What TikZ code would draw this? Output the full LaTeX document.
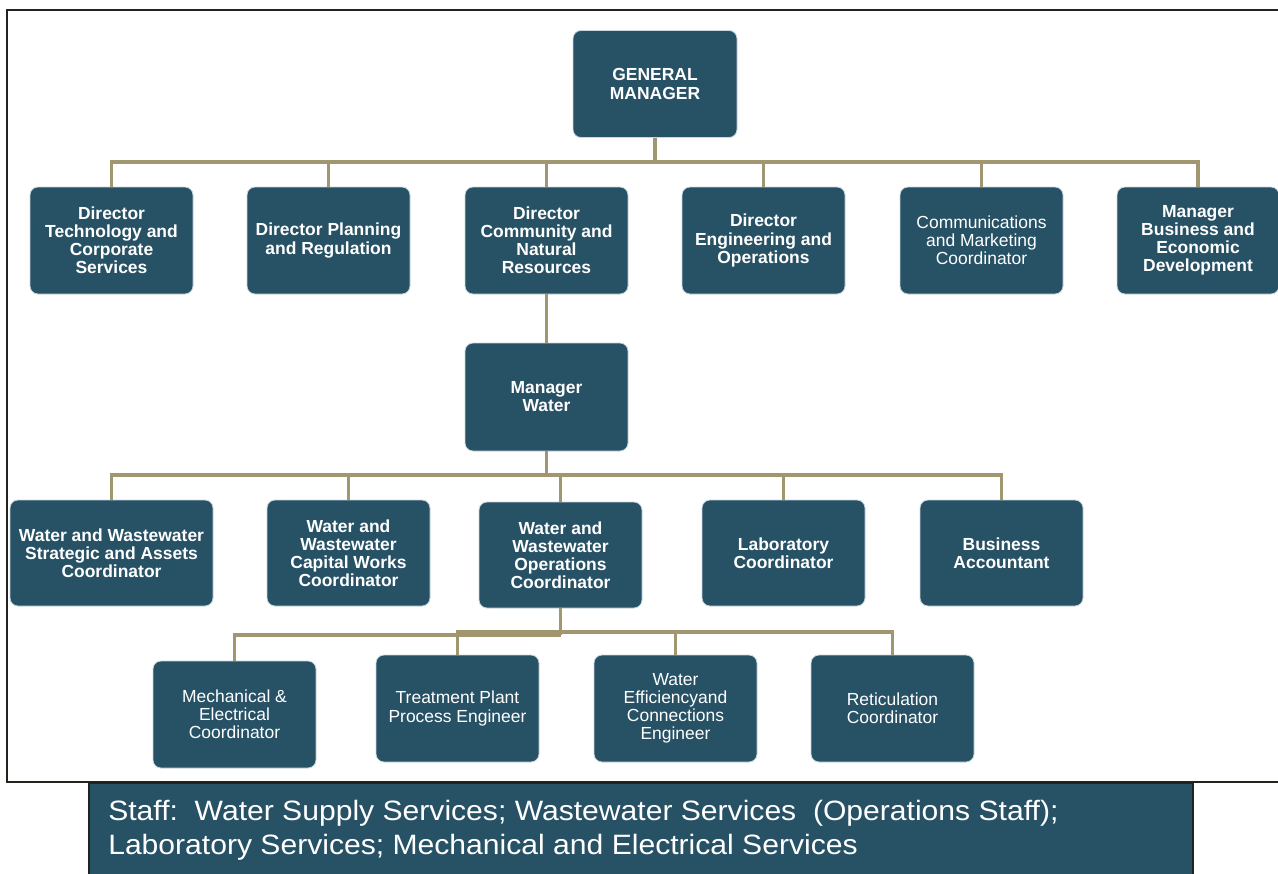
\documentclass[tikz,border=0pt]{standalone}
\usepackage{fontspec}
\setmainfont{Liberation Sans}
\newfontfamily\bannerfont[FakeStretch=1.075]{Liberation Sans}
\definecolor{boxfill}{RGB}{39,81,101}
\definecolor{boxedge}{RGB}{200,214,221}
\definecolor{linkcol}{RGB}{160,151,112}
\definecolor{framecol}{RGB}{35,35,30}
\tikzset{
  orgbox/.style={draw=boxedge, line width=0.6pt, fill=boxfill, rounded corners=6pt,
    text=white, align=center, inner sep=2pt,
    minimum width=122.25pt, minimum height=80.25pt,
    font=\fontsize{13.1pt}{13.6pt}\selectfont\bfseries},
  plainbox/.style={orgbox, font=\fontsize{13.1pt}{13.6pt}\selectfont},
  widebox/.style={orgbox, minimum width=152.25pt, minimum height=79.5pt},
  conn/.style={draw=linkcol, line width=2.4pt},
}
\begin{document}
\begin{tikzpicture}[x=0.75pt,y=-0.75pt]
\useasboundingbox (0,0) rectangle (1278,874);
% frame
\draw[framecol, line width=1.2pt] (1290,10) -- (7,10) -- (7,782) -- (1290,782);

% nodes
\node[orgbox, minimum width=123pt] (gm) at (655,84) {GENERAL\\MANAGER};

\node[orgbox] (d1) at (111.5,240.5) {Director\\Technology and\\Corporate\\Services};
\node[orgbox] (d2) at (328.5,240.5) {Director Planning\\and Regulation};
\node[orgbox] (d3) at (546.5,240.5) {Director\\Community and\\Natural\\Resources};
\node[orgbox] (d4) at (763.5,240.5) {Director\\Engineering and\\Operations};
\node[plainbox] (d5) at (981.5,240.5) {Communications\\and Marketing\\Coordinator};
\node[orgbox, minimum width=121.5pt] (d6) at (1198,240.5) {Manager\\Business and\\Economic\\Development};

\node[orgbox, minimum height=81pt] (mw) at (546.5,397) {Manager\\Water};

\node[widebox] (w1) at (111.5,553) {Water and Wastewater\\Strategic and Assets\\Coordinator};
\node[orgbox, minimum height=79.5pt] (w2) at (348.5,553) {Water and\\Wastewater\\Capital Works\\Coordinator};
\node[orgbox, minimum height=79.5pt] (w3) at (560.5,555) {Water and\\Wastewater\\Operations\\Coordinator};
\node[orgbox, minimum height=79.5pt] (w4) at (783.5,553) {Laboratory\\Coordinator};
\node[orgbox, minimum height=79.5pt] (w5) at (1001.5,553) {Business\\Accountant};

\node[plainbox] (c1) at (234.5,714.5) {Mechanical \&\\Electrical\\Coordinator};
\node[plainbox] (c2) at (457.5,708.5) {Treatment Plant\\Process Engineer};
\node[plainbox] (c3) at (675.5,708.5) {Water\\Efficiencyand\\Connections\\Engineer};
\node[plainbox] (c4) at (892.5,708.5) {Reticulation\\Coordinator};

% bus coordinates
\coordinate (b1) at (655,162);
\coordinate (b2) at (546.5,475);
\coordinate (b3a) at (560.5,635);
\coordinate (b3b) at (560.5,632);

% level 1 -> 2
\draw[conn] (gm.south) -- (b1);
\draw[conn] (d1.north) -- (d1.north |- b1) -- (d6.north |- b1) -- (d6.north);
\foreach \n in {d2,d3,d4,d5} \draw[conn] (\n.north) -- (\n.north |- b1);
% d3 -> manager water
\draw[conn] (d3.south) -- (mw.north);
% level 3
\draw[conn] (mw.south) -- (b2);
\draw[conn] (w1.north) -- (w1.north |- b2) -- (w5.north |- b2) -- (w5.north);
\foreach \n in {w2,w3,w4} \draw[conn] (\n.north) -- (\n.north |- b2);
% level 4
\draw[conn] (w3.south) -- (b3a);
\draw[conn] (c1.north) -- (c1.north |- b3a) -- (b3a);
\draw[conn] (c2.north) -- (c2.north |- b3b) -- (c4.north |- b3b) -- (c4.north);
\draw[conn] (c3.north) -- (c3.north |- b3b);

% banner
\draw[fill=boxfill, draw=framecol, line width=1.5pt] (89,783) rectangle (1193,880);
\node[anchor=west, align=left, text=white, inner sep=0pt,
  font=\bannerfont\fontsize{21pt}{25.5pt}\selectfont] (staff) at (108,830.5)
  {Staff:\ \ Water Supply Services; Wastewater Services\ \ (Operations Staff);\\Laboratory Services; Mechanical and Electrical Services};
\end{tikzpicture}
\end{document}
